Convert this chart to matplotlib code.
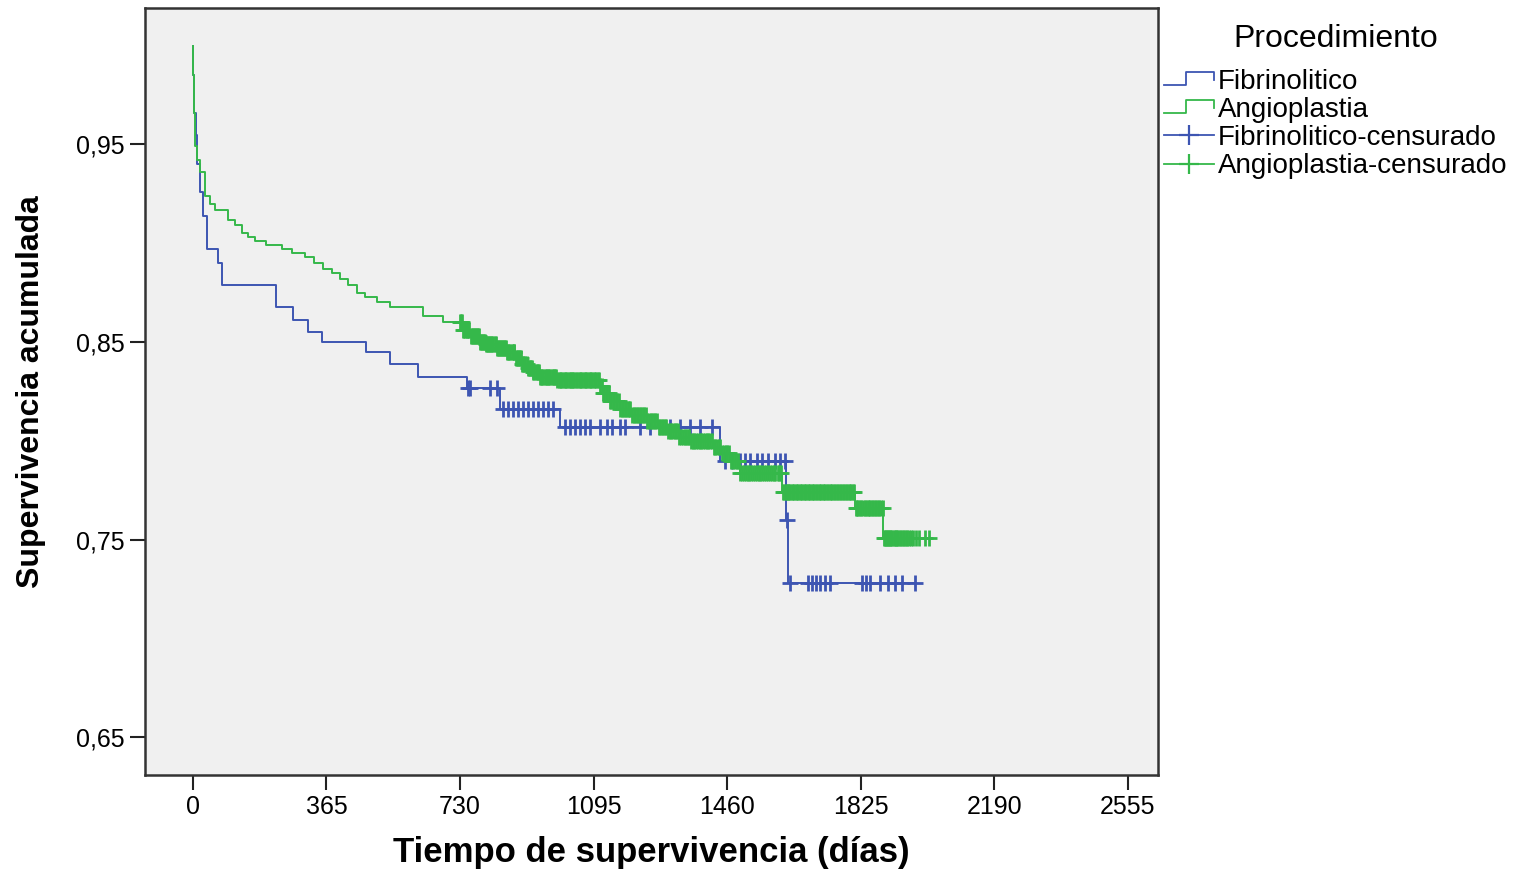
import numpy as np
import matplotlib
matplotlib.use("Agg")
import matplotlib.pyplot as plt
from matplotlib.lines import Line2D
from matplotlib.legend_handler import HandlerBase

# Kaplan-Meier steps (days, cumulative survival)
fib_t = [0, 1, 2, 4, 8, 12, 19, 27, 38, 68, 79, 227, 273, 314, 353, 473, 539,
         615, 750, 839, 1003, 1441, 1621, 1627]
fib_s = [1.000, 0.985, 0.975, 0.966, 0.955, 0.940, 0.926, 0.914, 0.897, 0.890,
         0.879, 0.8675, 0.861, 0.855, 0.850, 0.845, 0.839, 0.8325, 0.827, 0.816,
         0.807, 0.790, 0.760, 0.728]
fib_cens = [751, 757, 812, 831, 848, 861, 875, 889, 902, 916, 930, 943, 957, 971,
            984, 1017, 1031, 1044, 1058, 1072, 1085, 1113, 1132, 1146, 1167, 1181,
            1222, 1249, 1304, 1332, 1359, 1386, 1419, 1455, 1474, 1496, 1509, 1523,
            1542, 1556, 1572, 1591, 1605, 1619, 1624, 1632, 1681, 1692, 1703, 1714,
            1728, 1742, 1829, 1840, 1851, 1878, 1900, 1919, 1938, 1974]

ang_t = [0, 1, 3, 6, 11, 19, 33, 46, 60, 96, 115, 134, 150, 170, 200, 243, 270,
         306, 330, 355, 380, 402, 425, 448, 470, 503, 539, 629, 684, 738, 760, 785,
         800, 830, 859, 880, 900, 913, 930, 949, 995, 1113, 1121, 1140, 1167, 1200,
         1241, 1270, 1296, 1330, 1359, 1422, 1445, 1468, 1496, 1610, 1810, 1887]
ang_s = [1.000, 0.985, 0.966, 0.949, 0.942, 0.936, 0.924, 0.920, 0.917, 0.912,
         0.909, 0.905, 0.903, 0.901, 0.899, 0.897, 0.895, 0.893, 0.890, 0.887,
         0.885, 0.882, 0.879, 0.875, 0.873, 0.8705, 0.8675, 0.863, 0.860, 0.856,
         0.853, 0.850, 0.849, 0.847, 0.845, 0.842, 0.839, 0.837, 0.835, 0.8325,
         0.831, 0.828, 0.824, 0.820, 0.816, 0.813, 0.810, 0.807, 0.805, 0.802,
         0.800, 0.797, 0.794, 0.790, 0.784, 0.774, 0.766, 0.751]
ang_cens = [730, 733, 736, 739, 741, 745, 748, 750, 753, 756, 760, 763, 765, 768,
            771, 774, 776, 779, 782, 785, 787, 790, 793, 796, 799, 802, 804, 807,
            810, 813, 815, 818, 821, 825, 828, 831, 834, 837, 839, 842, 845, 848,
            851, 854, 856, 859, 862, 865, 868, 871, 874, 877, 879, 882, 885, 888,
            891, 894, 897, 900, 903, 906, 909, 912, 915, 918, 921, 924, 927, 930,
            933, 937, 940, 943, 946, 949, 952, 955, 958, 962, 965, 968, 971, 974,
            977, 981, 984, 987, 990, 993, 996, 1000, 1003, 1007, 1010, 1013, 1016,
            1020, 1023, 1027, 1030, 1033, 1036, 1040, 1043, 1047, 1050, 1054, 1057,
            1061, 1064, 1068, 1071, 1075, 1078, 1082, 1085, 1089, 1092, 1096, 1099,
            1103, 1106, 1110, 1114, 1118, 1121, 1125, 1129, 1133, 1137, 1141, 1144,
            1148, 1152, 1156, 1160, 1164, 1168, 1172, 1176, 1180, 1184, 1188, 1192,
            1196, 1200, 1205, 1209, 1213, 1217, 1221, 1225, 1230, 1234, 1238, 1242,
            1247, 1251, 1255, 1259, 1264, 1268, 1273, 1277, 1281, 1285, 1290, 1294,
            1299, 1303, 1308, 1312, 1317, 1321, 1326, 1330, 1335, 1339, 1344, 1348,
            1353, 1357, 1362, 1366, 1371, 1376, 1380, 1385, 1390, 1394, 1399, 1404,
            1409, 1413, 1418, 1423, 1428, 1432, 1437, 1442, 1447, 1452, 1456, 1461,
            1466, 1471, 1476, 1481, 1486, 1491, 1496, 1501, 1506, 1511, 1516, 1521,
            1526, 1531, 1536, 1541, 1546, 1551, 1556, 1561, 1567, 1572, 1577, 1582,
            1587, 1592, 1598, 1603, 1608, 1614, 1617, 1620, 1623, 1626, 1630, 1633,
            1637, 1640, 1644, 1648, 1652, 1655, 1659, 1662, 1666, 1670, 1674, 1677,
            1681, 1684, 1688, 1692, 1696, 1699, 1703, 1707, 1711, 1714, 1718, 1722,
            1726, 1729, 1733, 1737, 1741, 1745, 1748, 1752, 1756, 1760, 1764, 1768,
            1772, 1776, 1780, 1784, 1788, 1792, 1796, 1800, 1804, 1808, 1812, 1815,
            1819, 1823, 1827, 1831, 1836, 1840, 1844, 1848, 1852, 1856, 1860, 1864,
            1868, 1872, 1876, 1880, 1885, 1890, 1893, 1895, 1898, 1900, 1903, 1906,
            1909, 1912, 1915, 1918, 1922, 1925, 1928, 1932, 1936, 1940, 1944, 1948,
            1953, 1958, 1963, 1968, 1976, 1985, 2000, 2013]

x_ticks = [0, 365, 730, 1095, 1460, 1825, 2190, 2555]
y_ticks = [0.65, 0.75, 0.85, 0.95]
y_ticklabels = ["0,65", "0,75", "0,85", "0,95"]

blue = "#3d55b2"
green = "#35b84a"


def level_at(times, surv, t):
    idx = np.searchsorted(times, t, side="right") - 1
    return np.asarray(surv)[idx]


class StepHandler(HandlerBase):
    def create_artists(self, legend, orig_handle, xdescent, ydescent,
                       width, height, fontsize, trans):
        x0, y0 = -xdescent, -ydescent
        xs = [x0, x0 + 0.45 * width, x0 + 0.45 * width, x0 + width, x0 + width]
        ys = [y0 + 0.2 * height, y0 + 0.2 * height, y0 + 0.85 * height,
              y0 + 0.85 * height, y0 + 0.45 * height]
        return [Line2D(xs, ys, color=orig_handle.get_color(), lw=1.3,
                       transform=trans)]


fig = plt.figure(figsize=(15.13, 8.73), dpi=100)
ax = fig.add_axes([145 / 1513, 98 / 873, 1013 / 1513, 767 / 873])
ax.set_facecolor("#f0f0f0")

for t, s, cens, col in [(fib_t, fib_s, fib_cens, blue),
                        (ang_t, ang_s, ang_cens, green)]:
    tt = list(t) + [max(cens)]
    ss = list(s) + [s[-1]]
    ax.plot(tt, ss, drawstyle="steps-post", color=col, lw=1.4)
    ax.plot(cens, level_at(t, s, cens), ls="none", marker="+", ms=11,
            mew=2.0, color=col)

ax.set_xlim(-131, 2638)
ax.set_ylim(0.631, 1.019)
ax.set_xticks(x_ticks)
ax.set_xticklabels([str(v) for v in x_ticks], fontsize=18,
                   family="Liberation Sans")
ax.set_yticks(y_ticks)
ax.set_yticklabels(y_ticklabels, fontsize=18, family="Liberation Sans")
ax.tick_params(length=11, width=1.5, color="#222222")
for sp in ax.spines.values():
    sp.set_color("#333333")
    sp.set_linewidth(1.8)

ax.set_xlabel("Tiempo de supervivencia (días)", fontsize=25, fontweight="bold",
              family="Liberation Sans", labelpad=12)
ax.set_ylabel("Supervivencia acumulada", fontsize=23, fontweight="bold",
              family="Liberation Sans", labelpad=22)

handles = [Line2D([], [], color=blue), Line2D([], [], color=green),
           Line2D([], [], color=blue, marker="+", ms=15, mew=1.6, lw=1.3),
           Line2D([], [], color=green, marker="+", ms=15, mew=1.6, lw=1.3)]
labels = ["Fibrinolitico", "Angioplastia", "Fibrinolitico-censurado",
          "Angioplastia-censurado"]
fig.text(1336 / 1513, 1 - 39 / 873, "Procedimiento", ha="center", va="center",
         fontsize=23, family="Liberation Sans")
fig.legend(handles, labels, loc="upper left",
           bbox_to_anchor=(1161 / 1513, 1 - 66 / 873), frameon=False,
           prop={"family": "Liberation Sans", "size": 20},
           handlelength=1.8, handletextpad=0.15, labelspacing=0.08,
           borderpad=0.1, borderaxespad=0,
           handler_map={handles[0]: StepHandler(), handles[1]: StepHandler()})

fig.savefig("out.png", dpi=100)
